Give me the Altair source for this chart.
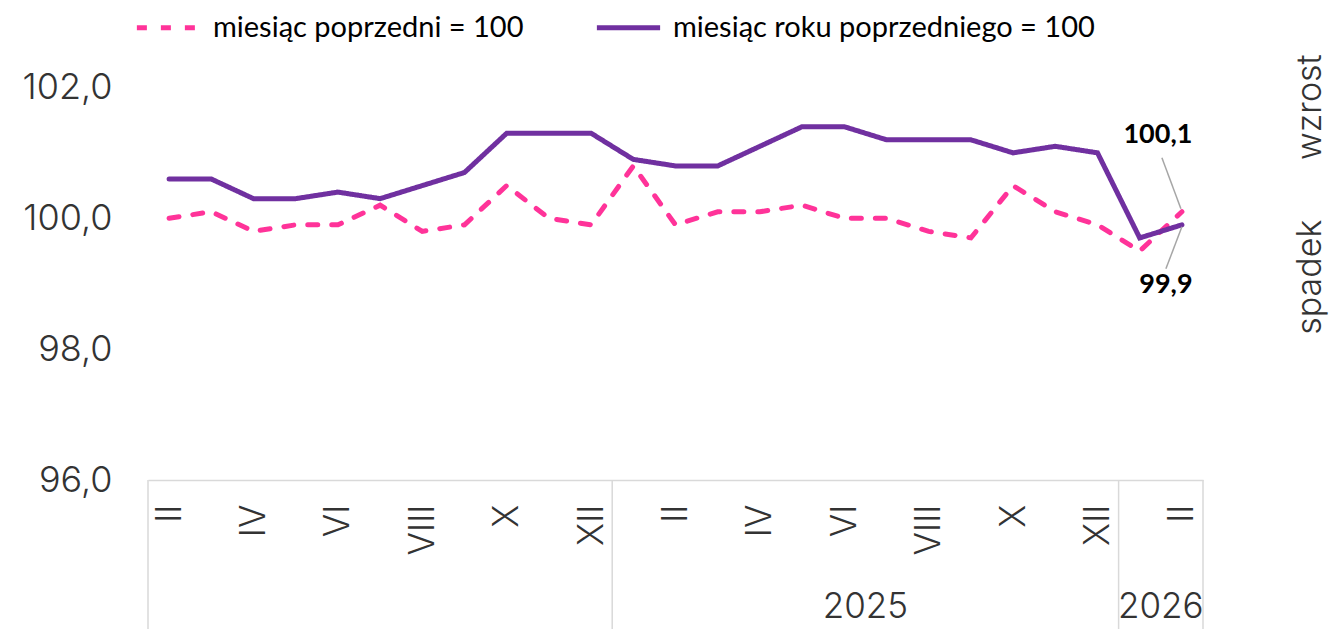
import json
import altair as alt
import pandas as pd

# ---- data -------------------------------------------------------------
months = ["II", "III", "IV", "V", "VI", "VII", "VIII", "IX", "X", "XI", "XII",
          "I", "II", "III", "IV", "V", "VI", "VII", "VIII", "IX", "X", "XI", "XII",
          "I", "II"]
years = [2024] * 11 + [2025] * 12 + [2026] * 2
year_labels_shown = {2024: "", 2025: "2025", 2026: "2026"}

mom = [100.0, 100.1, 99.8, 99.9, 99.9, 100.2, 99.8, 99.9, 100.5, 100.0, 99.9,
       100.8, 99.9, 100.1, 100.1, 100.2, 100.0, 100.0, 99.8, 99.7, 100.5, 100.1,
       99.9, 99.5, 100.1]
yoy = [100.6, 100.6, 100.3, 100.3, 100.4, 100.3, 100.5, 100.7, 101.3, 101.3, 101.3,
       100.9, 100.8, 100.8, 101.1, 101.4, 101.4, 101.2, 101.2, 101.2, 101.0, 101.1,
       101.0, 99.7, 99.9]

s_mom = "miesiąc poprzedni = 100"
s_yoy = "miesiąc roku poprzedniego = 100"

PINK = "#FF3399"
PURPLE = "#7030A0"
GRID = "#D9D9D9"
TXT = "#333333"
LIGHT_FONT = "Inter"

W, H = 1055, 458

rows = []
for i in range(len(months)):
    rows.append({"series": s_mom, "idx": i, "value": mom[i]})
    rows.append({"series": s_yoy, "idx": i, "value": yoy[i]})
df = pd.DataFrame(rows)

# year group boundaries and centers
bounds = [-0.5]
groups = []
start = 0
for i in range(1, len(years) + 1):
    if i == len(years) or years[i] != years[start]:
        bounds.append(i - 0.5)
        groups.append({"year": year_labels_shown[years[start]],
                       "center": (start + i - 1) / 2})
        start = i
bounds_df = pd.DataFrame({"b": bounds})
groups_df = pd.DataFrame(groups)

def fmt(v):
    return f"{v:.1f}".replace(".", ",")

last_mom = pd.DataFrame({"idx": [len(mom) - 1], "value": [mom[-1]], "label": [fmt(mom[-1])]})
last_yoy = pd.DataFrame({"idx": [len(yoy) - 1], "value": [yoy[-1]], "label": [fmt(yoy[-1])]})

x_scale = alt.Scale(domain=[-0.5, len(months) - 0.5], nice=False, zero=False)
y_scale = alt.Scale(domain=[96, 103], nice=False, zero=False)

x_axis = alt.Axis(
    values=list(range(0, len(months), 2)),
    labelExpr=f"{json.dumps(months)}[datum.value]",
    labelAngle=270, labelFontSize=35, labelFont=LIGHT_FONT, labelFontWeight=300,
    labelColor=TXT, labelPadding=24, labelFlush=False, labelOverlap=False,
    labelBound=False, ticks=False, grid=False, domainColor=GRID, domainWidth=1.5,
    title=None,
)
y_axis = alt.Axis(
    values=[96, 98, 100, 102],
    labelExpr="replace(format(datum.value, '.1f'), '.', ',')",
    labelFontSize=36, labelFont=LIGHT_FONT, labelFontWeight=300, labelColor=TXT,
    labelPadding=36, ticks=False, grid=False, domain=False, title=None,
)

lines = alt.Chart(df).mark_line(strokeWidth=5, strokeCap="round").encode(
    x=alt.X("idx:Q", scale=x_scale, axis=x_axis),
    y=alt.Y("value:Q", scale=y_scale, axis=y_axis),
    color=alt.Color("series:N",
                    scale=alt.Scale(domain=[s_mom, s_yoy], range=[PINK, PURPLE]),
                    sort=[s_mom, s_yoy],
                    legend=alt.Legend(
                        title=None, orient="none", legendX=-14, legendY=-29,
                        direction="horizontal", symbolType="stroke",
                        symbolSize=4000, symbolStrokeWidth=5,
                        labelFont="Lato", labelFontSize=29, labelColor="#000000",
                        labelOffset=10, columnPadding=62, labelLimit=600,
                    )),
    strokeDash=alt.StrokeDash("series:N",
                              scale=alt.Scale(domain=[s_mom, s_yoy],
                                              range=[[10, 14], [1, 0]]),
                              sort=[s_mom, s_yoy], legend=None),
)

seps = alt.Chart(bounds_df).mark_rule(color=GRID, strokeWidth=1.5).encode(
    x=alt.X("b:Q", scale=x_scale),
    y=alt.value(H),
    y2=alt.value(H + 170),
)

year_text = alt.Chart(groups_df).mark_text(
    font=LIGHT_FONT, fontWeight=300, fontSize=35, color=TXT, baseline="alphabetic"
).encode(
    x=alt.X("center:Q", scale=x_scale),
    y=alt.value(H + 138),
    text="year:N",
)

ann_mom = alt.Chart(last_mom).mark_text(
    font="Lato", fontWeight="bold", fontSize=27, color="#000000", dx=-24, dy=-77
).encode(x=alt.X("idx:Q", scale=x_scale), y=alt.Y("value:Q", scale=y_scale), text="label:N")
ann_yoy = alt.Chart(last_yoy).mark_text(
    font="Lato", fontWeight="bold", fontSize=27, color="#000000", dx=-16, dy=60
).encode(x=alt.X("idx:Q", scale=x_scale), y=alt.Y("value:Q", scale=y_scale), text="label:N")

lead_mom = alt.Chart(last_mom).mark_rule(
    color="#A6A6A6", strokeWidth=1.5, xOffset=-20, yOffset=-54, x2Offset=-1, y2Offset=-3
).encode(x=alt.X("idx:Q", scale=x_scale), y=alt.Y("value:Q", scale=y_scale),
         x2="idx:Q", y2="value:Q")
lead_yoy = alt.Chart(last_yoy).mark_rule(
    color="#A6A6A6", strokeWidth=1.5, xOffset=0, yOffset=2, x2Offset=-16, y2Offset=44
).encode(x=alt.X("idx:Q", scale=x_scale), y=alt.Y("value:Q", scale=y_scale),
         x2="idx:Q", y2="value:Q")

side_df = pd.DataFrame({"t": ["wzrost", "spadek"], "yv": [101.7, 99.1]})
side = alt.Chart(side_df).mark_text(
    font=LIGHT_FONT, fontWeight=300, fontSize=34, color=TXT, angle=270
).encode(
    x=alt.value(W + 108),
    y=alt.Y("yv:Q", scale=y_scale),
    text="t:N",
)

chart = alt.layer(lines, seps, year_text, lead_mom, lead_yoy, ann_mom, ann_yoy, side).properties(
    width=W, height=H,
    autosize=alt.AutoSizeParams(type="none"),
    padding={"left": 140, "top": 14, "right": 126, "bottom": 160},
).configure_view(strokeWidth=0)

chart.save("out.html", embed_options={"renderer": "svg", "actions": False})
